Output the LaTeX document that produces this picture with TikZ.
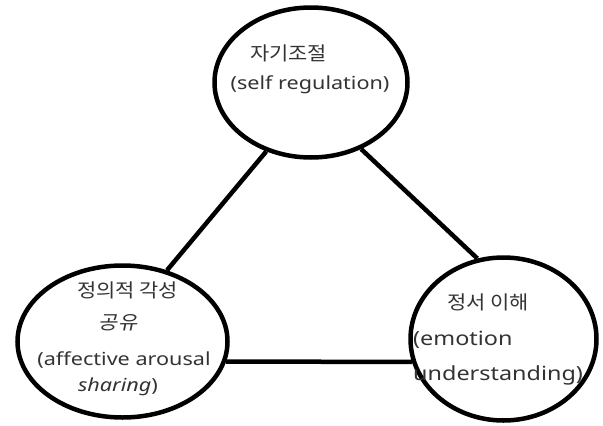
\documentclass[tikz,border=0pt]{standalone}
\usepackage{fontspec}
\setmainfont[FakeStretch=1.2]{Noto Sans}
\newfontfamily\kr[FakeStretch=1.1]{Noto Sans CJK KR}
\newfontfamily\krit[FakeStretch=1.1,FakeSlant=0.2]{Noto Sans CJK KR}
\usetikzlibrary{shapes.geometric}
\begin{document}
\begin{tikzpicture}[x=1pt,y=-1pt,
  circ/.style={draw=black, line width=4.5pt, ellipse, inner sep=0pt},
  link/.style={draw=black, line width=4.5pt},
  lbl/.style={text=black!80, inner sep=0pt, font=\fontsize{18}{20}\selectfont},
  lblk/.style={text=black!80, inner sep=0pt, font=\kr\fontsize{19}{20}\selectfont}]
\useasboundingbox (0,0) rectangle (603,426);
\node[circ, minimum width=193pt, minimum height=150pt] (top) at (311,82.5) {};
\node[circ, minimum width=210pt, minimum height=152pt] (left) at (122.5,341.5) {};
\node[circ, minimum width=186pt, minimum height=163pt] (right) at (503.5,339) {};
\draw[link] (top.237) -- (left.58);
\draw[link] (top.307) -- (right.108);
\draw[link] (left.349) -- (right.194);
% top labels
\node[lblk] (t1) at (288.5,53) {자기조절};
\node[lbl] (t2) at (310,85) {(self regulation)};
% left labels
\node[lblk] (l1) at (127.5,290) {정의적 각성};
\node[lblk, font=\krit\fontsize{19}{20}\selectfont] (l2) at (118,323) {공유};
\node[lbl] (l3) at (124,360) {(affective arousal};
\node[lbl] (l4) at (118,387) {\textit{sharing})};
% right labels
\node[lblk] (r1) at (488,302) {정서 이해};
\node[lbl, anchor=west, font=\fontsize{19.5}{20}\selectfont] (r2) at (413,340) {(emotion};
\node[lbl, anchor=west, font=\fontsize{19.5}{20}\selectfont] (r3) at (413,375) {understanding)};
\end{tikzpicture}
\end{document}
